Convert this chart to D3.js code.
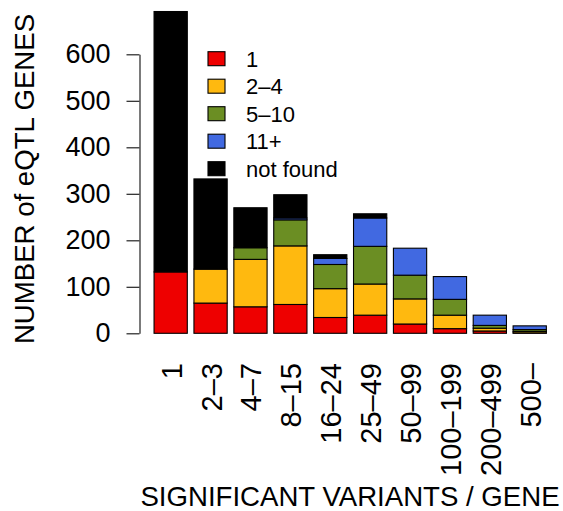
<!DOCTYPE html>
<html>
<head>
<meta charset="utf-8">
<script src="https://cdn.jsdelivr.net/npm/d3@7"></script>
<style>
  html, body { margin: 0; padding: 0; background: #fff; }
  svg { display: block; font-family: "Liberation Sans", Arial, Helvetica, sans-serif; }
</style>
</head>
<body>
<svg id="chart" width="563" height="511"></svg>
<script>
// Number of significant variants per gene (bins on the x axis)
const categories = ["1", "2–3", "4–7", "8–15", "16–24", "25–49", "50–99", "100–199", "200–499", "500–"];

// Stacked series, bottom to top
const seriesNames = ["1", "2–4", "5–10", "11+", "not found"];
const vals1        = [132, 65, 57, 62, 34, 39, 20, 10, 5, 1];
const vals2to4     = [0, 73, 102, 126, 62, 67, 54, 29, 6, 3];
const vals5to10    = [0, 0, 25, 56, 52, 81, 51, 34, 6, 4];
const vals11plus   = [0, 0, 0, 4, 13, 61, 58, 49, 22, 8];
const valsNotFound = [560, 194, 86, 50, 8, 9, 0, 0, 0, 0];

const yTicks = [0, 100, 200, 300, 400, 500, 600];
const colors = ["#EE0000", "#FFB90F", "#6B8E23", "#4169E1", "#000000"];

const seriesVals = [vals1, vals2to4, vals5to10, vals11plus, valsNotFound];
const rows = categories.map((c, i) => {
  const r = { cat: c };
  seriesNames.forEach((s, k) => { r[s] = seriesVals[k][i]; });
  return r;
});

const svg = d3.select("#chart");

const x = d3.scaleBand()
  .domain(categories)
  .range([147.4, 553])
  .paddingInner(1 / 6)
  .paddingOuter(1 / 6);

const y = d3.scaleLinear().domain([0, 600]).range([333.3, 54.3]);

const stack = d3.stack().keys(seriesNames);
const layers = stack(rows);

// Stacked bars
svg.append("g")
  .selectAll("g")
  .data(layers)
  .join("g")
    .attr("fill", (d, i) => colors[i])
  .selectAll("rect")
  .data(d => d.filter(p => p[1] - p[0] > 0))
  .join("rect")
    .attr("x", d => x(d.data.cat))
    .attr("width", x.bandwidth())
    .attr("y", d => y(d[1]))
    .attr("height", d => y(d[0]) - y(d[1]))
    .attr("stroke", "#000")
    .attr("stroke-width", 1.1);

// Y axis
const yAxis = d3.axisLeft(y)
  .tickValues(yTicks)
  .tickSize(13)
  .tickSizeOuter(0)
  .tickPadding(16);

const gy = svg.append("g")
  .attr("transform", "translate(139.5,0)")
  .call(yAxis);
gy.select(".domain").attr("stroke", "#222").attr("stroke-width", 1.2);
gy.selectAll(".tick line").attr("stroke", "#222").attr("stroke-width", 1.2);
gy.selectAll(".tick text")
  .attr("fill", "#000")
  .style("font-size", "27px")
  .style("font-family", "'Liberation Sans', Arial, Helvetica, sans-serif");

// X tick labels, rotated
svg.append("g")
  .selectAll("text")
  .data(categories)
  .join("text")
    .attr("transform", d => `translate(${x(d) + x.bandwidth() / 2 + 11},363) rotate(-90)`)
    .attr("text-anchor", "end")
    .style("font-size", "29px")
    .text(d => d);

// Axis titles
svg.append("text")
  .attr("x", 350)
  .attr("y", 506)
  .attr("text-anchor", "middle")
  .style("font-size", "27.6px")
  .text("SIGNIFICANT VARIANTS / GENE");

svg.append("text")
  .attr("transform", "translate(34,179) rotate(-90)")
  .attr("text-anchor", "middle")
  .style("font-size", "27.6px")
  .text("NUMBER of eQTL GENES");

// Legend
const legend = svg.append("g");
const legendRows = legend.selectAll("g")
  .data(seriesNames)
  .join("g")
    .attr("transform", (d, i) => `translate(0,${58.7 + i * 27.5})`);
legendRows.append("rect")
  .attr("x", 208)
  .attr("y", -7)
  .attr("width", 17)
  .attr("height", 14)
  .attr("fill", (d, i) => colors[i])
  .attr("stroke", "#000")
  .attr("stroke-width", 1.1);
legendRows.append("text")
  .attr("x", 246)
  .attr("y", 0)
  .attr("dy", "0.36em")
  .style("font-size", "22px")
  .text(d => d);
</script>
</body>
</html>
